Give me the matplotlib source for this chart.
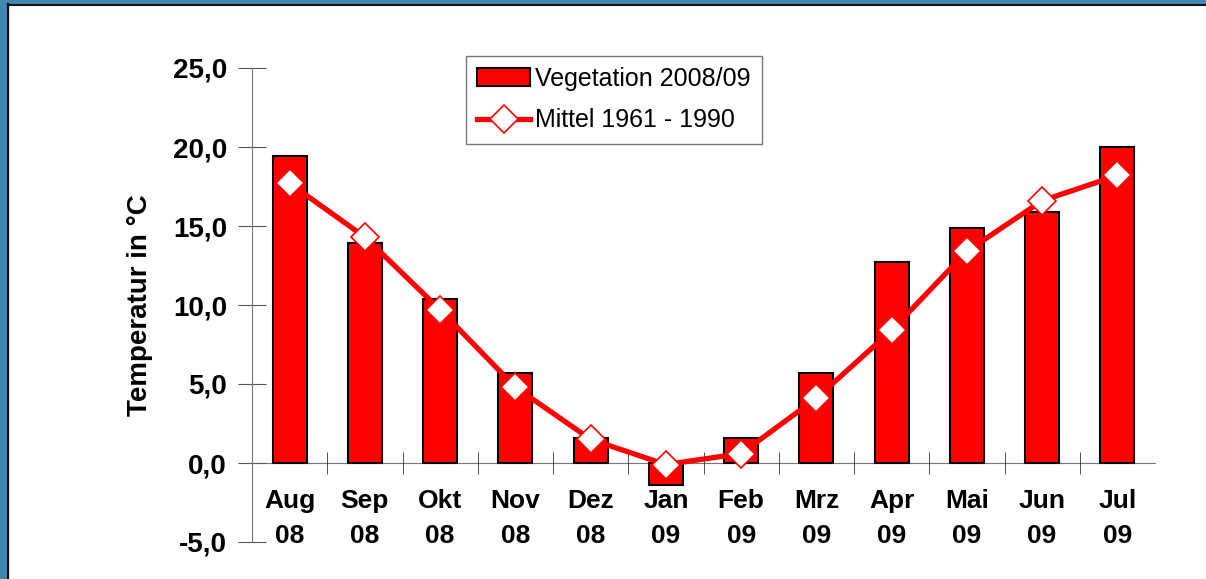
import numpy as np
import matplotlib.pyplot as plt
from matplotlib.patches import Rectangle
from matplotlib.ticker import FuncFormatter

months = ['Aug\n08', 'Sep\n08', 'Okt\n08', 'Nov\n08', 'Dez\n08', 'Jan\n09',
          'Feb\n09', 'Mrz\n09', 'Apr\n09', 'Mai\n09', 'Jun\n09', 'Jul\n09']
vegetation = [19.4, 13.9, 10.4, 5.7, 1.6, -1.4, 1.6, 5.7, 12.7, 14.9, 15.9, 20.0]
mittel = [17.7, 14.3, 9.7, 4.8, 1.5, -0.1, 0.6, 4.1, 8.4, 13.4, 16.6, 18.2]

plt.rcParams['font.family'] = ['Liberation Sans', 'DejaVu Sans']

fig = plt.figure(figsize=(12.06, 5.79), dpi=100)
fig.patch.set_facecolor('white')

# blue frame around the slide
blue = '#4287b1'
fig.patches.append(Rectangle((0, 0), 8 / 1206, 1, transform=fig.transFigure, color=blue, zorder=0))
fig.patches.append(Rectangle((0, 1 - 4 / 579), 1, 4 / 579, transform=fig.transFigure, color=blue, zorder=0))
fig.add_artist(plt.Line2D([8 / 1206, 8 / 1206], [0, 1 - 4 / 579], transform=fig.transFigure, color='#111111', lw=1.5))
fig.add_artist(plt.Line2D([8 / 1206, 1], [1 - 4.5 / 579, 1 - 4.5 / 579], transform=fig.transFigure, color='#111111', lw=1.5))

ax = fig.add_axes([252 / 1206, 1 - 542 / 579, 903 / 1206, 474 / 579])
x = np.arange(len(months))

bars = ax.bar(x, vegetation, width=0.45, color='#ff0000', edgecolor='black', linewidth=1.5,
              label='Vegetation 2008/09', zorder=2)
line, = ax.plot(x, mittel, color='#ff0000', lw=3.8, marker='D', markersize=14,
                markerfacecolor='white', markeredgecolor='#ff0000', markeredgewidth=1.2,
                label='Mittel 1961 - 1990', zorder=3)

ax.set_xlim(-0.5, len(months) - 0.5)
ax.set_ylim(-5, 25)
ax.set_yticks(np.arange(-5, 26, 5))
ax.yaxis.set_major_formatter(FuncFormatter(lambda v, p: f'{v:.1f}'.replace('.', ',')))

for s in ['top', 'right']:
    ax.spines[s].set_visible(False)
ax.spines['bottom'].set_position(('data', 0))
ax.spines['bottom'].set_color('#777777')
ax.spines['left'].set_color('#777777')
ax.spines['bottom'].set_zorder(1)

ax.set_xticks(x)
ax.set_xticklabels(months, fontsize=19, fontweight='bold', linespacing=1.55)
ax.set_xticks(np.arange(0.5, len(months) - 0.5, 1), minor=True)
ax.tick_params(axis='x', which='major', length=0, pad=19)
ax.tick_params(axis='x', which='minor', direction='inout', length=16, color='#333333')
ax.tick_params(axis='y', direction='inout', length=20, color='#555555', labelsize=20, pad=8)
for t in ax.get_yticklabels():
    t.set_fontweight('bold')

ax.set_ylabel('Temperatur in °C', fontsize=20, fontweight='bold', labelpad=14)

leg = ax.legend(handles=[bars, line], loc='upper left', bbox_to_anchor=(0.237, 1.026),
                borderaxespad=0, fontsize=18, frameon=True, fancybox=False,
                edgecolor='#555555', handlelength=2.1, handletextpad=0.2,
                borderpad=0.45, labelspacing=0.7)
leg.get_frame().set_linewidth(1.0)

fig.savefig('out.png', dpi=100)
